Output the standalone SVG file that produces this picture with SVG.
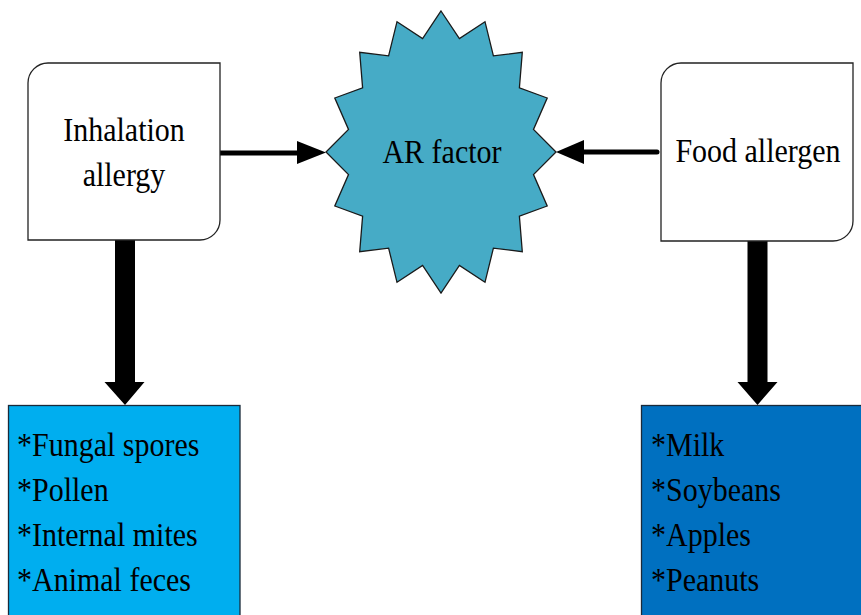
<svg xmlns="http://www.w3.org/2000/svg" width="861" height="615" viewBox="0 0 861 615">
<style>
.t{font-family:"Liberation Serif","Times New Roman",serif;font-size:30px;fill:#000}
.c{text-anchor:middle}
.box{fill:#fff;stroke:#222;stroke-width:1.3}
.list{stroke:#1a2a3a;stroke-width:1.3}
.conn{fill:#000;stroke:none}
.line{stroke:#000;stroke-width:5;stroke-linecap:round;fill:none}
</style>
<rect width="861" height="615" fill="#fff"/>
<g id="connectors">
<path class="line" d="M219,153 H300"/>
<path class="conn" d="M297,141 L326,152.5 L297,164 Z"/>
<path class="line" d="M657,152 H580"/>
<path class="conn" d="M584,140 L556,152 L584,164 Z"/>
<path class="conn" d="M115,240 H135 V382 H144.5 L125,405 L104.5,382 H115 Z"/>
<path class="conn" d="M747.5,241 H767.5 V382 H777.5 L757.5,405 L737.5,382 H747.5 Z"/>
</g>
<g id="inhalation">
<path class="box" d="M28,83 A20,20 0 0 1 48,63 H220 V220 A20,20 0 0 1 200,240 H28 Z"/>
<text class="t c" transform="translate(124,141) scale(1,1.15)">Inhalation</text>
<text class="t c" transform="translate(124,186) scale(1,1.15)">allergy</text>
</g>
<g id="ar-factor">
<polygon fill="#46abc6" stroke="#1a1a1a" stroke-width="1.3" points="441,11 459.4,38.6 485,21.7 493.4,55.9 522.3,52.3 519.4,87.8 547.2,98 533.5,129.4 556,152 533.5,174.6 547.2,206 519.4,216.2 522.3,251.7 493.4,248.1 485,282.3 459.4,265.4 441,293 422.6,265.4 397,282.3 388.6,248.1 359.7,251.7 362.6,216.2 334.8,206 348.5,174.6 326,152 348.5,129.4 334.8,98 362.6,87.8 359.7,52.3 388.6,55.9 397,21.7 422.6,38.6"/>
<text class="t c" transform="translate(442,163) scale(1,1.15)">AR factor</text>
</g>
<g id="food">
<path class="box" d="M661,83 A20,20 0 0 1 681,63 H853 V221 A20,20 0 0 1 833,241 H661 Z"/>
<text class="t c" transform="translate(758,162) scale(1,1.15)">Food allergen</text>
</g>
<g id="inhalation-list">
<rect class="list" x="8.5" y="405.5" width="231.5" height="220" fill="#00aeef"/>
<text class="t" transform="translate(17,456) scale(1,1.15)">*Fungal spores</text>
<text class="t" transform="translate(17,501) scale(1,1.15)">*Pollen</text>
<text class="t" transform="translate(17,546) scale(1,1.15)">*Internal mites</text>
<text class="t" transform="translate(17,591) scale(1,1.15)">*Animal feces</text>
</g>
<g id="food-list">
<rect class="list" x="641.5" y="405.5" width="230" height="220" fill="#0070c0"/>
<text class="t" transform="translate(651,456) scale(1,1.15)">*Milk</text>
<text class="t" transform="translate(651,501) scale(1,1.15)">*Soybeans</text>
<text class="t" transform="translate(651,546) scale(1,1.15)">*Apples</text>
<text class="t" transform="translate(651,591) scale(1,1.15)">*Peanuts</text>
</g>
</svg>
